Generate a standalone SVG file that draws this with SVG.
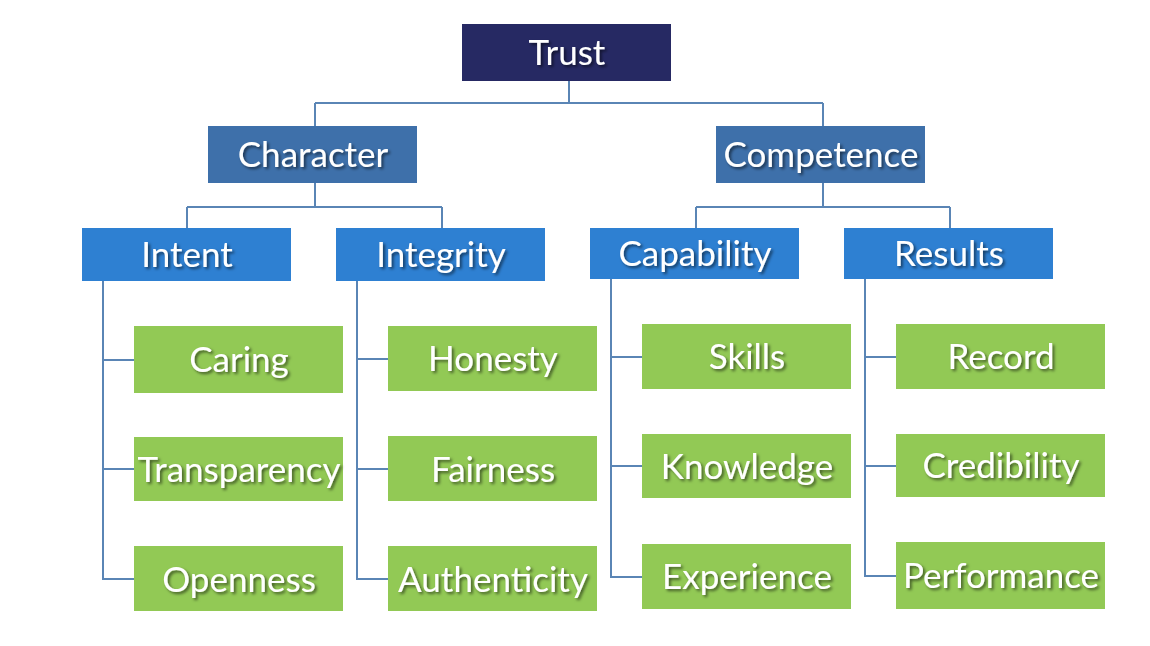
<svg xmlns="http://www.w3.org/2000/svg" width="1150" height="646" viewBox="0 0 1150 646">
<defs>
<filter id="ts" x="-10%" y="-30%" width="130%" height="170%">
<feDropShadow dx="2" dy="2" stdDeviation="1.5" flood-color="#000" flood-opacity="0.55"/>
</filter>
</defs>
<style>
.t{font-family:Lato,"Open Sans",sans-serif;font-size:35px;fill:#fff;text-anchor:middle;filter:url(#ts)}
.l1{fill:#262963}
.l2{fill:#3e70aa}
.l3{fill:#2e80d2}
.l4{fill:#92c955}
.c{fill:none;stroke:#5a85b5;stroke-width:2}
</style>
<rect width="1150" height="646" fill="#fff"/>
<g id="connectors">
<path class="c" d="M569 81V103M315 103H823M315 103V126M823 103V126"/>
<path class="c" d="M315 183V207M187 207H442M187 207V228M442 207V228"/>
<path class="c" d="M823 183V207M696 207H950M696 207V228M950 207V228"/>
<path class="c" d="M103 281V579H134M103 360H134M103 469H134"/>
<path class="c" d="M357 281V579H388M357 359H388M357 469H388"/>
<path class="c" d="M611 279V577H642M611 357H642M611 466H642"/>
<path class="c" d="M865 279V576H896M865 357H896M865 466H896"/>
</g>
<g id="trust"><rect class="l1" x="462" y="24" width="209" height="57"/><text class="t" x="567" y="65">Trust</text></g>
<g id="character"><rect class="l2" x="208" y="126" width="209" height="57"/><text class="t" x="313" y="167">Character</text></g>
<g id="competence"><rect class="l2" x="716" y="126" width="209" height="57"/><text class="t" x="821" y="167">Competence</text></g>
<g id="intent"><rect class="l3" x="82" y="228" width="209" height="53"/><text class="t" x="187" y="267">Intent</text></g>
<g id="integrity"><rect class="l3" x="336" y="228" width="209" height="53"/><text class="t" x="441" y="267">Integrity</text></g>
<g id="capability"><rect class="l3" x="590" y="228" width="209" height="51"/><text class="t" x="695" y="266">Capability</text></g>
<g id="results"><rect class="l3" x="844" y="228" width="209" height="51"/><text class="t" x="949" y="266">Results</text></g>
<g id="caring"><rect class="l4" x="134" y="326" width="209" height="67"/><text class="t" x="239" y="372">Caring</text></g>
<g id="transparency"><rect class="l4" x="134" y="437" width="209" height="64"/><text class="t" x="239" y="482">Transparency</text></g>
<g id="openness"><rect class="l4" x="134" y="546" width="209" height="65"/><text class="t" x="239" y="592">Openness</text></g>
<g id="honesty"><rect class="l4" x="388" y="326" width="209" height="65"/><text class="t" x="493" y="371">Honesty</text></g>
<g id="fairness"><rect class="l4" x="388" y="436" width="209" height="65"/><text class="t" x="493" y="482">Fairness</text></g>
<g id="authenticity"><rect class="l4" x="388" y="546" width="209" height="65"/><text class="t" x="493" y="592">Authenticity</text></g>
<g id="skills"><rect class="l4" x="642" y="324" width="209" height="65"/><text class="t" x="747" y="369">Skills</text></g>
<g id="knowledge"><rect class="l4" x="642" y="434" width="209" height="64"/><text class="t" x="747" y="479">Knowledge</text></g>
<g id="experience"><rect class="l4" x="642" y="544" width="209" height="65"/><text class="t" x="747" y="589">Experience</text></g>
<g id="record"><rect class="l4" x="896" y="324" width="209" height="65"/><text class="t" x="1001" y="369">Record</text></g>
<g id="credibility"><rect class="l4" x="896" y="434" width="209" height="63"/><text class="t" x="1001" y="478">Credibility</text></g>
<g id="performance"><rect class="l4" x="896" y="542" width="209" height="67"/><text class="t" x="1001" y="588">Performance</text></g>
</svg>
